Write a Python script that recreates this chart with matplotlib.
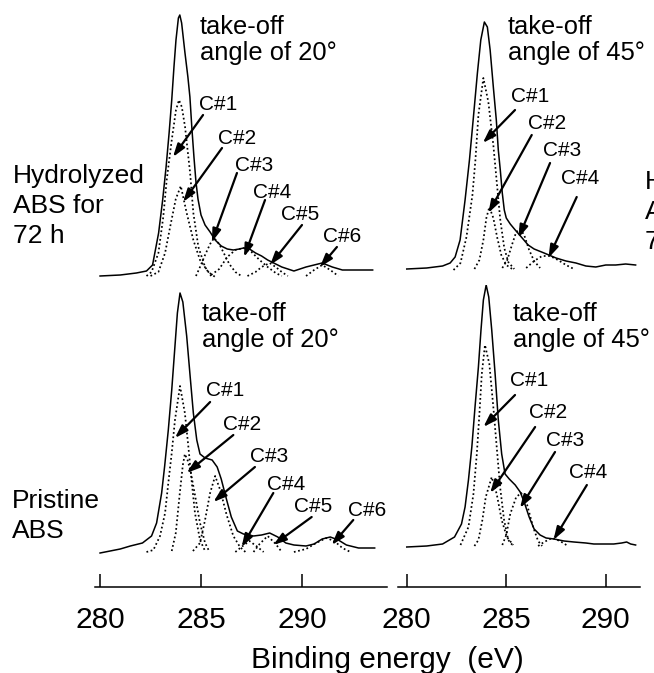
import matplotlib
matplotlib.use("Agg")
import matplotlib.pyplot as plt

plt.rcParams["font.family"] = ["Liberation Sans", "DejaVu Sans"]

W, H = 654, 673  # output size in pixels (dpi 100)

# ---------------- data ----------------
# binding energy (eV) and intensity (a.u.); components C#1..C#n are dotted

# hydrolyzed ABS 72 h, take-off angle 20 deg
hyd20_be = [280.0, 281.0, 281.8, 282.3, 282.6, 282.9, 283.1, 283.27, 283.42, 283.55,
            283.66, 283.76, 283.88, 283.95, 284.04, 284.2, 284.35, 284.45, 284.55, 284.65,
            284.75, 284.85, 285.0, 285.2, 285.45, 285.7, 286.0, 286.3, 286.6, 286.9,
            287.1, 287.4, 287.7, 288.0, 288.3, 288.7, 289.0, 289.6, 290.2, 290.6,
            291.0, 291.5, 292.0, 292.7, 293.5]
hyd20_int = [1, 2, 4, 6, 12, 44, 77, 110, 144, 177,
             210, 237, 259, 262, 254, 225, 200, 180, 148, 120,
             95, 78, 62, 52, 45, 37, 31, 28, 27, 28,
             29, 28, 24, 21, 17, 13, 10, 6, 10, 12,
             14, 10, 7, 7, 7]
hyd20_c1_be = [282.3, 282.55, 282.89, 283.13, 283.3, 283.55, 283.76, 283.91, 284.05, 284.21,
               284.46, 284.62, 284.87, 285.2, 285.5]
hyd20_c1 = [1, 5, 24, 60, 97, 137, 167, 177, 170, 150, 104, 64, 30, 10, 1]
hyd20_c2_be = [282.5, 282.89, 283.22, 283.47, 283.75, 284.0, 284.29, 284.62, 284.95, 285.36, 285.7]
hyd20_c2 = [1, 5, 24, 50, 78, 91, 64, 37, 17, 5, 0]
hyd20_c3_be = [284.75, 284.95, 285.2, 285.45, 285.65, 285.9, 286.15, 286.4, 286.7, 287.0]
hyd20_c3 = [1, 10, 22, 33, 39, 33, 23, 13, 5, 1]
hyd20_c4_be = [285.5, 285.9, 286.3, 286.7, 287.1, 287.5, 287.9, 288.3, 288.7, 289.0]
hyd20_c4 = [2, 8, 20, 27, 29, 25, 17, 10, 4, 1]
hyd20_c5_be = [287.3, 287.7, 288.0, 288.4, 288.7, 289.0, 289.3]
hyd20_c5 = [1, 5, 10, 14, 10, 5, 1]
hyd20_c6_be = [290.2, 290.6, 291.0, 291.4, 291.8]
hyd20_c6 = [1, 7, 12, 7, 1]

# hydrolyzed ABS 72 h, take-off angle 45 deg
hyd45_be = [280.0, 281.0, 281.8, 282.18, 282.43, 282.68, 282.93, 283.15, 283.35, 283.55,
            283.72, 283.9, 284.05, 284.19, 284.35, 284.5, 284.6, 284.7, 284.8, 284.9,
            285.0, 285.2, 285.45, 285.8, 286.1, 286.4, 286.9, 287.5, 288.0, 288.5,
            289.0, 289.5, 290.0, 290.5, 291.0, 291.5]
hyd45_int = [1, 2, 4, 7, 13, 30, 70, 110, 153, 197,
             230, 248, 243, 220, 183, 150, 120, 100, 77, 60,
             52, 46, 40, 32, 25, 21, 17, 12, 9, 7,
             4, 3, 5, 5, 6, 5]
hyd45_c1_be = [282.35, 282.7, 283.0, 283.3, 283.45, 283.6, 283.85, 284.1, 284.35, 284.55,
               284.7, 284.9, 285.1, 285.4]
hyd45_c1 = [0, 7, 33, 75, 110, 155, 192, 168, 125, 82, 50, 22, 8, 1]
hyd45_c2_be = [283.4, 283.65, 283.85, 284.0, 284.15, 284.35, 284.55, 284.75, 285.0, 285.3]
hyd45_c2 = [1, 10, 30, 52, 63, 52, 32, 15, 5, 1]
hyd45_c3_be = [284.8, 285.05, 285.3, 285.5, 285.7, 285.9, 286.15, 286.4, 286.7]
hyd45_c3 = [2, 10, 26, 38, 41, 35, 20, 9, 2]
hyd45_c4_be = [286.0, 286.4, 286.8, 287.2, 287.6, 288.0, 288.4]
hyd45_c4 = [2, 9, 14, 14, 10, 5, 1]

# pristine ABS, take-off angle 20 deg
pri20_be = [280.0, 281.0, 281.5, 282.1, 282.55, 282.8, 283.05, 283.2, 283.38, 283.55,
            283.71, 283.83, 283.96, 284.1, 284.29, 284.46, 284.62, 284.79, 284.95, 285.2,
            285.55, 285.8, 286.0, 286.27, 286.5, 286.8, 287.1, 287.6, 288.0, 288.4,
            288.8, 289.2, 289.6, 290.2, 290.6, 291.0, 291.4, 291.8, 292.2, 292.8, 293.6]
pri20_int = [0, 4, 7, 10, 17, 30, 60, 87, 123, 163,
             207, 240, 260, 251, 217, 177, 140, 113, 99, 95,
             93, 86, 74, 53, 36, 22, 19, 17, 18, 20,
             16, 10, 8, 7, 9, 14, 16, 13, 8, 5, 5]
pri20_c1_be = [282.3, 282.64, 282.97, 283.22, 283.38, 283.55, 283.71, 283.96, 284.2, 284.37,
               284.53, 284.7, 284.95, 285.2]
pri20_c1 = [1, 3, 17, 40, 70, 100, 133, 167, 140, 107, 73, 40, 13, 2]
pri20_c2_be = [283.55, 283.75, 283.95, 284.1, 284.2, 284.35, 284.5, 284.7, 284.95, 285.2, 285.4]
pri20_c2 = [2, 20, 60, 88, 99, 92, 80, 58, 30, 10, 2]
pri20_c3_be = [284.6, 284.95, 285.2, 285.45, 285.7, 285.95, 286.27, 286.6, 286.93, 287.2]
pri20_c3 = [2, 10, 33, 60, 77, 63, 38, 17, 6, 1]
pri20_c4_be = [286.7, 287.0, 287.4, 287.8, 288.1]
pri20_c4 = [1, 6, 12, 6, 1]
pri20_c5_be = [287.6, 287.9, 288.3, 288.7, 289.0]
pri20_c5 = [1, 9, 17, 9, 1]
pri20_c6_be = [289.6, 290.2, 290.7, 291.2, 291.6, 292.0, 292.4]
pri20_c6 = [1, 4, 10, 15, 12, 5, 1]

# pristine ABS, take-off angle 45 deg
pri45_be = [280.0, 281.0, 281.8, 282.4, 282.75, 282.93, 283.1, 283.27, 283.43, 283.6,
            283.73, 283.85, 283.99, 284.12, 284.27, 284.44, 284.6, 284.77, 284.94, 285.15,
            285.45, 285.7, 285.9, 286.15, 286.4, 286.7, 287.0, 287.4, 287.9, 288.4,
            289.0, 289.4, 290.0, 290.4, 290.8, 291.05, 291.25, 291.5]
pri45_int = [0, 1, 3, 10, 23, 40, 67, 100, 140, 180,
             217, 247, 262, 250, 217, 173, 127, 93, 73, 68,
             62, 55, 45, 30, 18, 12, 9, 8, 6, 5,
             4, 3, 3, 3, 4, 5, 3, 2]
pri45_c1_be = [282.7, 283.1, 283.35, 283.52, 283.65, 283.77, 283.93, 284.15, 284.35, 284.52,
               284.69, 284.89, 285.1, 285.35]
pri45_c1 = [2, 20, 53, 93, 133, 173, 202, 183, 140, 100, 60, 27, 7, 1]
pri45_c2_be = [283.4, 283.6, 283.8, 283.97, 284.27, 284.52, 284.77, 285.03, 285.35]
pri45_c2 = [1, 7, 27, 50, 70, 53, 27, 10, 2]
pri45_c3_be = [284.8, 285.0, 285.2, 285.5, 285.75, 286.05, 286.35, 286.6, 286.8]
pri45_c3 = [2, 12, 33, 50, 54, 42, 20, 6, 1]
pri45_c4_be = [286.6, 286.9, 287.3, 287.7, 288.1]
pri45_c4 = [1, 5, 9, 6, 1]

peak_names = ["C#1", "C#2", "C#3", "C#4", "C#5", "C#6"]
energy_ticks = [280, 285, 290]
energy_tick_labels = ["280", "285", "290"]

# ---------------- layout (annotation positions in data units) ----------------
# (label centre, arrow tail, arrow tip)
hyd20_notes = [((285.84, 173), (285.10, 162), (283.61, 120)),
               ((286.78, 139), (286.04, 129), (284.11, 75)),
               ((287.62, 112), (286.78, 104), (285.54, 35)),
               ((288.51, 85), (288.17, 77), (287.13, 20)),
               ((289.90, 63), (290.00, 52), (288.42, 12)),
               ((291.98, 41), (291.73, 30), (290.89, 10))]
hyd45_notes = [((286.20, 174), (285.44, 160), (283.82, 127)),
               ((287.05, 147), (286.28, 135), (284.10, 57)),
               ((287.80, 120), (287.20, 107), (285.61, 32)),
               ((288.71, 92), (288.54, 73), (287.12, 12))]
pri20_notes = [((286.19, 163), (285.45, 151), (283.71, 115)),
               ((287.03, 129), (286.60, 118), (284.29, 80)),
               ((288.37, 97), (287.67, 86), (285.61, 51)),
               ((289.21, 69), (288.58, 60), (287.01, 6)),
               ((290.54, 47), (290.48, 36), (288.58, 8)),
               ((293.22, 43), (292.54, 33), (291.47, 8))]
pri45_notes = [((286.15, 166), (285.44, 152), (283.85, 120)),
               ((287.10, 134), (286.45, 120), (284.19, 54)),
               ((287.95, 107), (287.45, 95), (285.69, 39)),
               ((289.11, 74), (289.05, 62), (287.37, 7))]

LEFT_X = (95, 387, (279.75, 294.21))
RIGHT_X = (398, 640, (279.56, 291.72))

fig = plt.figure(figsize=(W / 100, H / 100), dpi=100)


def add_panel(xspec, y0, y1, base):
    x0, x1, xlim = xspec
    ax = fig.add_axes([x0 / W, 1 - y1 / H, (x1 - x0) / W, (y1 - y0) / H])
    ax.set_xlim(xlim)
    ax.set_ylim(base - y1, base - y0)  # one intensity unit per pixel
    ax.patch.set_visible(False)
    return ax


def draw(ax, be, inten, comps, notes):
    ax.plot(be, inten, color="black", lw=1.1, solid_joinstyle="round")
    for cbe, cint in comps:
        ax.plot(cbe, cint, color="black", lw=1.25, ls=(0, (1, 1.5)))
    for name, (lab, tail, tip) in zip(peak_names, notes):
        ax.text(lab[0], lab[1], name, fontsize=15, ha="center", va="center")
        ax.annotate("", xy=tip, xytext=tail,
                    arrowprops=dict(arrowstyle="-|>,head_length=0.55,head_width=0.18",
                                    lw=1.6, color="black", shrinkA=0, shrinkB=0,
                                    mutation_scale=14))


def style_axis(ax, bottom):
    for s in ["top", "left", "right"]:
        ax.spines[s].set_visible(False)
    ax.set_yticks([])
    if bottom:
        ax.spines["bottom"].set_linewidth(1.1)
        ax.set_xticks(energy_ticks, energy_tick_labels)
        ax.tick_params(axis="x", direction="in", length=9.5, width=1.1,
                       labelsize=21.5, pad=14)
    else:
        ax.spines["bottom"].set_visible(False)
        ax.set_xticks([])


ax_tl = add_panel(LEFT_X, 5, 280, 277)
ax_tr = add_panel(RIGHT_X, 5, 280, 270)
ax_bl = add_panel(LEFT_X, 285, 587, 553)
ax_br = add_panel(RIGHT_X, 285, 587, 547)

draw(ax_tl, hyd20_be, hyd20_int,
     [(hyd20_c1_be, hyd20_c1), (hyd20_c2_be, hyd20_c2), (hyd20_c3_be, hyd20_c3),
      (hyd20_c4_be, hyd20_c4), (hyd20_c5_be, hyd20_c5), (hyd20_c6_be, hyd20_c6)],
     hyd20_notes)
draw(ax_tr, hyd45_be, hyd45_int,
     [(hyd45_c1_be, hyd45_c1), (hyd45_c2_be, hyd45_c2), (hyd45_c3_be, hyd45_c3),
      (hyd45_c4_be, hyd45_c4)],
     hyd45_notes)
draw(ax_bl, pri20_be, pri20_int,
     [(pri20_c1_be, pri20_c1), (pri20_c2_be, pri20_c2), (pri20_c3_be, pri20_c3),
      (pri20_c4_be, pri20_c4), (pri20_c5_be, pri20_c5), (pri20_c6_be, pri20_c6)],
     pri20_notes)
draw(ax_br, pri45_be, pri45_int,
     [(pri45_c1_be, pri45_c1), (pri45_c2_be, pri45_c2), (pri45_c3_be, pri45_c3),
      (pri45_c4_be, pri45_c4)],
     pri45_notes)

style_axis(ax_tl, False)
style_axis(ax_tr, False)
style_axis(ax_bl, True)
style_axis(ax_br, True)


def ftext(x, y, s, size, ls=1.2):
    # x, y in image pixels, y = baseline of the last line
    fig.text(x / W, 1 - y / H, s, fontsize=size, ha="left", va="baseline",
             linespacing=ls)


ftext(200, 60, "take-off\nangle of 20°", 18.4, 1.12)
ftext(508, 60, "take-off\nangle of 45°", 18.4, 1.12)
ftext(202, 347, "take-off\nangle of 20°", 18.4, 1.12)
ftext(513, 347, "take-off\nangle of 45°", 18.4, 1.12)
ftext(13, 243, "Hydrolyzed\nABS for\n72 h", 19, 1.31)
# neighbouring panel's label, cropped at the right edge as in the source figure
ftext(645, 249, "Hydrolyzed\nABS for\n72 h", 19, 1.31)
ftext(12, 538, "Pristine\nABS", 19, 1.31)

fig.text(387 / W, 1 - 668 / H, "Binding energy  (eV)", fontsize=21.5,
         ha="center", va="baseline")

fig.savefig("out.png", dpi=100)
